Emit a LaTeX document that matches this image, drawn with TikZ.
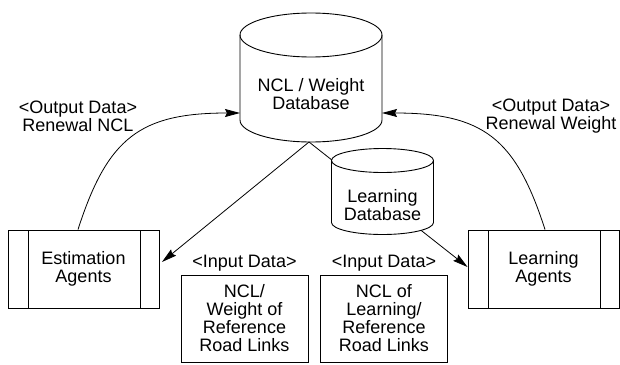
\documentclass[tikz,border=0pt]{standalone}
\usepackage{fontspec}
\setmainfont{Liberation Sans}
\usetikzlibrary{arrows.meta,positioning}
\begin{document}
\begin{tikzpicture}[x=1pt,y=-1pt,
  every node/.style={font=\fontsize{18}{18}\selectfont, align=center},
  outline/.style={line width=0.9pt},
  conn/.style={line width=0.8pt, -{Stealth[length=15pt,width=8pt,inset=2pt]}},
  agent/.style={draw, line width=0.9pt, minimum width=151pt, minimum height=78pt, inner sep=0pt,
    path picture={
      \draw[line width=0.9pt] ([xshift=20pt]path picture bounding box.north west) -- ([xshift=20pt]path picture bounding box.south west);
      \draw[line width=0.9pt] ([xshift=-19pt]path picture bounding box.north east) -- ([xshift=-19pt]path picture bounding box.south east);
    }},
  inbox/.style={draw, line width=0.9pt, minimum width=127pt, minimum height=87pt, inner sep=0pt},
  tag/.style={inner sep=3.3pt}
]
\useasboundingbox (0,0) rectangle (620,364);

% agents
\node[agent] (est) at (83.5,269) {Estimation\\Agents};
\node[agent] (lrn) at (543.5,269) {Learning\\Agents};

% input data boxes
\node[inbox] (in1) at (244.5,318.5) {NCL/\\Weight of\\Reference\\Road Links};
\node[inbox] (in2) at (384,318.5) {NCL of\\Learning/\\Reference\\Road Links};
\node[tag, above=0pt of in1] (in1-tag) {<Input Data>};
\node[tag, above=0pt of in2] (in2-tag) {<Input Data>};

% output data labels
\node (out-l) at (78,116) {<Output Data>\\Renewal NCL};
\node (out-r) at (551,116) {<Output Data>\\Renewal Weight};

% NCL / Weight database cylinder
\draw[outline, fill=white] (240,35) -- (240,120)
  arc[start angle=180, end angle=0, x radius=71, y radius=22] -- (382,35)
  arc[start angle=0, end angle=-180, x radius=71, y radius=22] -- cycle;
\draw[outline] (240,35) arc[start angle=180, end angle=0, x radius=71, y radius=22];
\node (ncl) at (311,94.5) {NCL / Weight\\Database};

\coordinate (ncl-foot) at (309,142);
\coordinate (ncl-w) at (240,113);
\coordinate (ncl-e) at (382,113);

% data flow from the database
\draw[conn] (ncl-foot) -- ([xshift=2.5pt,yshift=7pt]est.east);
\draw[conn] (ncl-foot) -- ([yshift=2pt]lrn.west);

% learning database cylinder (covers the line passing behind it)
\draw[outline, fill=white] (331.5,160.5) -- (331.5,222.5)
  arc[start angle=180, end angle=0, x radius=51, y radius=12] -- (433.5,160.5)
  arc[start angle=0, end angle=-180, x radius=51, y radius=12] -- cycle;
\draw[outline] (331.5,160.5) arc[start angle=180, end angle=0, x radius=51, y radius=12];
\node (ldb) at (382.5,205) {Learning\\Database};

% renewal feedback
\draw[conn] ([xshift=-5.5pt]est.north) .. controls (107.5,137.75) and (140,113) .. (ncl-w);
\draw[conn] ([xshift=1.5pt]lrn.north) .. controls (515.5,137.75) and (483,113) .. (ncl-e);
\end{tikzpicture}
\end{document}
